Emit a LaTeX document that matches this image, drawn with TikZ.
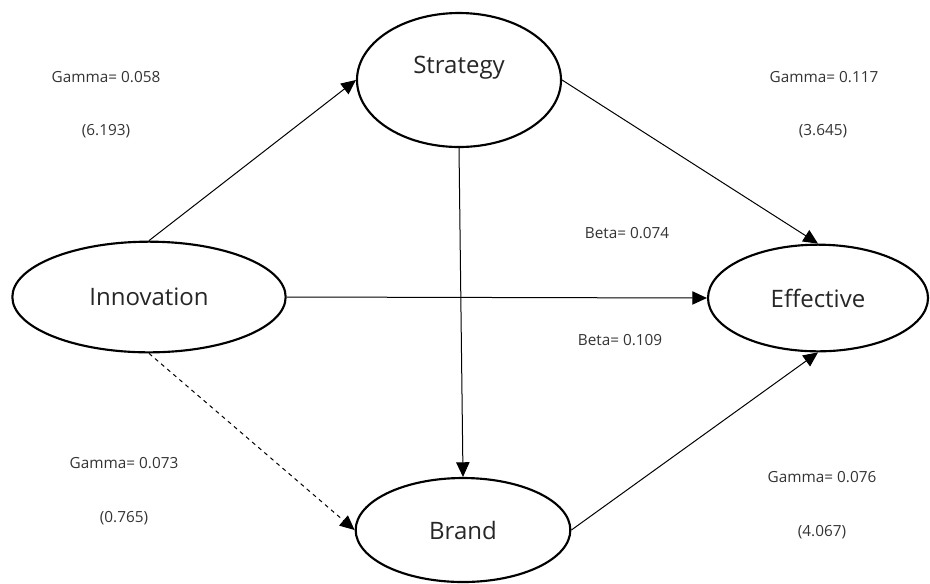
\documentclass[tikz,border=0pt]{standalone}
\usepackage{fontspec}
\setmainfont{Open Sans}
\usetikzlibrary{shapes.geometric,arrows.meta}
\begin{document}
\begin{tikzpicture}[x=0.75pt,y=-0.75pt,
  latent/.style={draw,ellipse,line width=1.6pt,inner sep=0pt,text=black!85,font=\fontsize{18}{21}\selectfont},
  conn/.style={line width=0.75pt,-{Triangle[length=11pt,width=10pt]}},
  lab/.style={font=\fontsize{11.5}{14}\selectfont,text=black!80,inner sep=0pt}]
\useasboundingbox (0,0) rectangle (930,583);
\node[latent,minimum width=153pt,minimum height=100.5pt,
  label={[yshift=9pt,text=black!85,font=\fontsize{18}{21}\selectfont]center:Strategy}] (S) at (459,80) {};
\node[latent,minimum width=205pt,minimum height=83pt] (I) at (149,297) {Innovation};
\node[latent,minimum width=165pt,minimum height=80pt] (E) at (818,298) {Effective};
\node[latent,minimum width=161pt,minimum height=78pt] (B) at (463,530) {Brand};
\draw[conn] (I.north) -- (S.west);
\draw[conn] (S.east) -- (E.north);
\draw[conn] (S.south) -- (B.north);
\draw[conn] (I.east) -- (E.west);
\draw[conn,dashed] (I.south) -- (B.west);
\draw[conn] (B.east) -- (E.south);
\node[lab] (g1) at (106,77) {Gamma= 0.058};
\node[lab] (t1) at (106,131) {(6.193)};
\node[lab] (g2) at (824,77) {Gamma= 0.117};
\node[lab] (t2) at (823,131) {(3.645)};
\node[lab] (b1) at (627,233) {Beta= 0.074};
\node[lab] (b2) at (620,340) {Beta= 0.109};
\node[lab] (g3) at (124,463) {Gamma= 0.073};
\node[lab] (t3) at (124,518) {(0.765)};
\node[lab] (g4) at (822,477) {Gamma= 0.076};
\node[lab] (t4) at (822,532) {(4.067)};
\end{tikzpicture}
\end{document}
